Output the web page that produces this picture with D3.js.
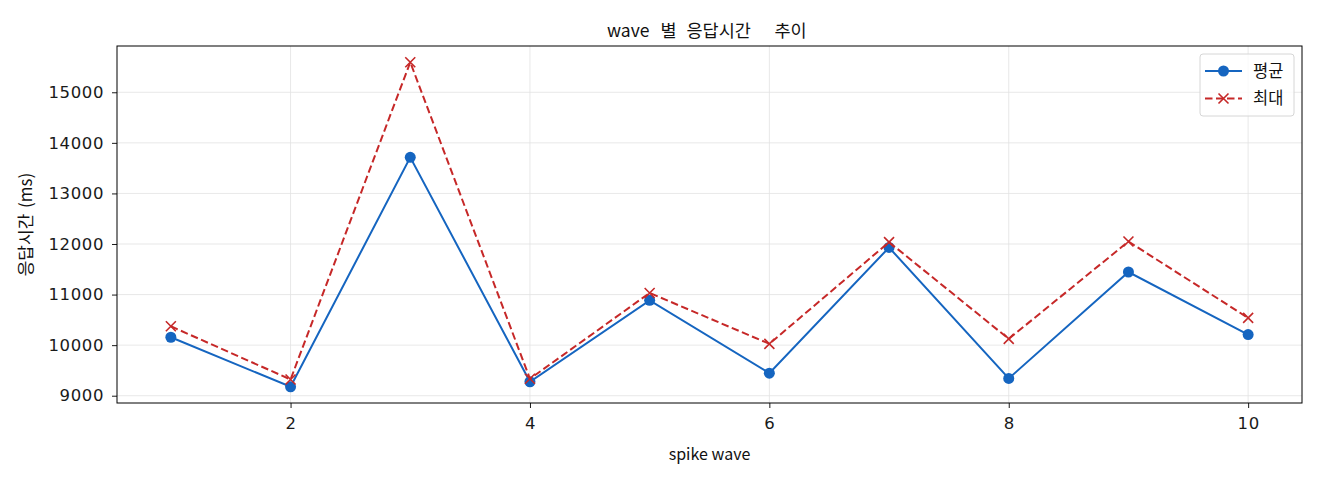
<!DOCTYPE html>
<html><head><meta charset="utf-8">
<script src="https://cdn.jsdelivr.net/npm/d3@7"></script>
<style>body{margin:0;background:#fff}</style>
</head><body><svg id="c" width="1320" height="480"></svg>
<script>
const waves = [1,2,3,4,5,6,7,8,9,10];
const avgValues = [10156,9177,13714,9276,10886,9446,11931,9341,11446,10209];
const maxValues = [10373,9321,15594,9335,11032,10026,12037,10124,12049,10538];
const xTicks = [2,4,6,8,10];
const yTicks = [9000,10000,11000,12000,13000,14000,15000];
const titleText = "wave 별 응답시간 추이";
const xLabel = "spike wave";
const yLabel = "응답시간 (ms)";
const seriesNames = ["평균","최대"];

const KR = "'Noto Sans CJK KR','Noto Sans',sans-serif";
const NUM = "'DejaVu Sans',sans-serif";
const svg = d3.select("#c");
const L=117,R=1302,T=46,B=403;
const x = d3.scaleLinear().domain([0.55,10.45]).range([L,R]);
const y = d3.scaleLinear().domain([8856,15915]).range([B,T]);
const blue="#1565c0", red="#c62828";

// grid
svg.append("g").selectAll("line").data(xTicks).enter().append("line")
  .attr("x1",d=>x(d)).attr("x2",d=>x(d)).attr("y1",T).attr("y2",B)
  .attr("stroke","#e2e2e2").attr("stroke-width",0.8);
svg.append("g").selectAll("line").data(yTicks).enter().append("line")
  .attr("x1",L).attr("x2",R).attr("y1",d=>y(d)).attr("y2",d=>y(d))
  .attr("stroke","#e2e2e2").attr("stroke-width",0.8);

// axes
const xAxis = d3.axisBottom(x).tickValues(xTicks).tickSize(5).tickPadding(9).tickFormat(d3.format("d"));
const yAxis = d3.axisLeft(y).tickValues(yTicks).tickSize(5).tickPadding(8).tickFormat(d3.format("d"));
const ax = svg.append("g").attr("transform",`translate(0,${B})`).call(xAxis);
const ay = svg.append("g").attr("transform",`translate(${L},0)`).call(yAxis);
[ax,ay].forEach(a=>{
  a.select(".domain").remove();
  a.selectAll("line").attr("stroke","#000").attr("stroke-width",0.9);
  a.selectAll("text").style("font-family",NUM).style("font-size","16.5px")
    .style("letter-spacing","0.6px").attr("fill","#1a1a1a");
});
svg.append("rect").attr("x",L).attr("y",T).attr("width",R-L).attr("height",B-T)
  .attr("fill","none").attr("stroke","#000").attr("stroke-width",1);

// lines
const line = d3.line().x((d,i)=>x(waves[i])).y(d=>y(d));
svg.append("path").datum(avgValues).attr("d",line).attr("fill","none")
  .attr("stroke",blue).attr("stroke-width",2);
svg.append("g").selectAll("circle").data(avgValues).enter().append("circle")
  .attr("cx",(d,i)=>x(waves[i])).attr("cy",d=>y(d)).attr("r",5.5).attr("fill",blue);

svg.append("path").datum(maxValues).attr("d",line).attr("fill","none")
  .attr("stroke",red).attr("stroke-width",2).attr("stroke-dasharray","7.5,3.5");
const xs=5;
const xPath=(cx,cy)=>`M${cx-xs},${cy-xs}L${cx+xs},${cy+xs}M${cx-xs},${cy+xs}L${cx+xs},${cy-xs}`;
svg.append("g").selectAll("path").data(maxValues).enter().append("path")
  .attr("d",(d,i)=>xPath(x(waves[i]),y(d)))
  .attr("stroke",red).attr("stroke-width",1.6).attr("fill","none");

// title: words laid out with the wide spacing of the reference font
const cx = (L+R)/2;
const wordOffsets = [-102.5,-49,-23,65];
const tt = svg.append("text").attr("y",37)
  .style("font-family",KR).style("font-size","17.5px").attr("fill","#111");
titleText.split(" ").forEach((w,i)=>{
  tt.append("tspan").attr("x",cx+wordOffsets[i]).text(w);
});
svg.append("text").attr("x",cx).attr("y",460).attr("text-anchor","middle")
  .style("font-family",KR).style("font-size","16px").attr("fill","#111").text(xLabel);
svg.append("text").attr("transform",`translate(32,${(T+B)/2}) rotate(-90)`).attr("text-anchor","middle")
  .style("font-family",KR).style("font-size","17px").style("word-spacing","2px").attr("fill","#111").text(yLabel);

// legend
const lg = svg.append("g");
lg.append("rect").attr("x",1200).attr("y",54).attr("width",94).attr("height",62).attr("rx",3)
  .attr("fill","#fff").attr("fill-opacity",0.8).attr("stroke","#d6d6d6");
lg.append("line").attr("x1",1205).attr("x2",1242).attr("y1",71).attr("y2",71).attr("stroke",blue).attr("stroke-width",2);
lg.append("circle").attr("cx",1223.5).attr("cy",71).attr("r",5.5).attr("fill",blue);
lg.append("line").attr("x1",1205).attr("x2",1242).attr("y1",98.5).attr("y2",98.5).attr("stroke",red).attr("stroke-width",2).attr("stroke-dasharray","7.5,3.5");
lg.append("path").attr("d",xPath(1223.5,98.5)).attr("stroke",red).attr("stroke-width",1.6);
lg.selectAll(".lt").data(seriesNames).enter().append("text")
  .attr("x",1253).attr("y",(d,i)=>71+i*27.5).attr("dy","0.36em")
  .style("font-family",KR).style("font-size","16.5px").attr("fill","#111").text(d=>d);
</script></body></html>
